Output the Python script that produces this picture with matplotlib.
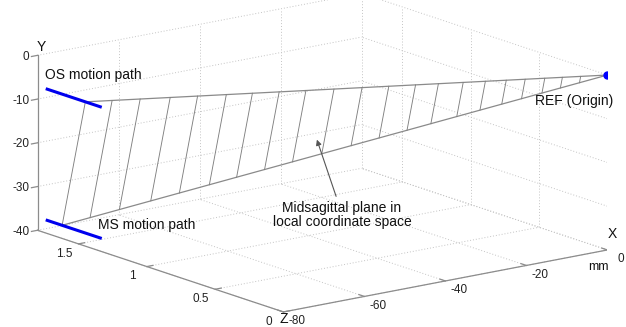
import numpy as np
import matplotlib
matplotlib.use("Agg")
import matplotlib.pyplot as plt
from mpl_toolkits.mplot3d import proj3d

plt.rcParams['font.family'] = ['Liberation Sans', 'DejaVu Sans']

# axis ranges (mm) -- X horizontal, Y vertical, Z depth
x_lim = [-80, 0]
y_lim = [-40, 0]
z_lim = [0, 1.8]
x_ticks = [-80, -60, -40, -20, 0]
y_ticks = [-40, -30, -20, -10, 0]
z_ticks = [0, 0.5, 1, 1.5]
z_ticklabels = ['0', '0.5', '1', '1.5']

# reference point (origin)
ref = [0, 0, 0]

# motion paths: X, Y fixed, Z range
os_x, os_y, os_z = -80, -7, [1.33, 1.74]
ms_x, ms_y, ms_z = -80, -37, [1.33, 1.74]

# far corners of the midsagittal plane (X, Y, Z)
plane_top = [-80, -7, 1.45]
plane_bot = [-80, -37, 1.62]

# X positions of the hatch lines along the plane
hatch_x = [-80, -75.9, -71.6, -67, -62.8, -58.4, -54.4, -50.3, -46.2, -41.9,
           -37.6, -33.5, -29.4, -25.9, -22.1, -18.7, -15.5, -12.6, -9.6, -6.9, -4.1]

fig = plt.figure(figsize=(6.26, 3.27), dpi=100)
ax = fig.add_axes([0.035, -0.386, 0.935, 1.79], projection='3d')
ax.set_proj_type('ortho')
ax.set_box_aspect((2.25, 2.25, 1))
ax.view_init(elev=14.6, azim=-127.2)
ax.set_xlim(x_lim)
ax.set_ylim(z_lim)
ax.set_zlim(y_lim)
ax.set_xticks([])
ax.set_yticks([])
ax.set_zticks([])
ax.set_axis_off()


def line3(X, Y, Z, **kw):
    # data order (X, Y, Z) -> mpl axes (x, z, y)
    return ax.plot(X, Z, Y, **kw)


# dotted grid on floor and the two back walls
grid_kw = dict(color='#c4c4c4', lw=0.7, linestyle=(0, (1, 2)))
for xt in x_ticks:
    line3([xt, xt], [y_lim[0]] * 2, z_lim, **grid_kw)
    line3([xt, xt], y_lim, [z_lim[1]] * 2, **grid_kw)
for zt in z_ticks:
    line3(x_lim, [y_lim[0]] * 2, [zt, zt], **grid_kw)
    line3([x_lim[1]] * 2, y_lim, [zt, zt], **grid_kw)
for yt in y_ticks:
    line3(x_lim, [yt, yt], [z_lim[1]] * 2, **grid_kw)
    line3([x_lim[1]] * 2, [yt, yt], z_lim, **grid_kw)

# axis lines and ticks
ax_kw = dict(color='#8c8c8c', lw=0.9)
line3(x_lim, [y_lim[0]] * 2, [z_lim[0]] * 2, **ax_kw)
line3([x_lim[0]] * 2, [y_lim[0]] * 2, z_lim, **ax_kw)
line3([x_lim[0]] * 2, y_lim, [z_lim[1]] * 2, **ax_kw)
for xt in x_ticks:
    line3([xt, xt], [y_lim[0]] * 2, [0, 0.04], **ax_kw)
for zt in z_ticks:
    line3([x_lim[0], x_lim[0] + 1.5], [y_lim[0]] * 2, [zt, zt], **ax_kw)
for yt in y_ticks:
    line3([x_lim[0] - 1.5, x_lim[0]], [yt, yt], [z_lim[1]] * 2, **ax_kw)

# plane edges
for corner in (plane_top, plane_bot):
    line3([ref[0], corner[0]], [ref[1], corner[1]], [ref[2], corner[2]],
          color='#8a8a8a', lw=0.9)

# hatch lines
for hx in hatch_x:
    t = hx / plane_top[0]
    top = [ref[i] + t * (plane_top[i] - ref[i]) for i in range(3)]
    bot = [ref[i] + t * (plane_bot[i] - ref[i]) for i in range(3)]
    line3([top[0], bot[0]], [top[1], bot[1]], [top[2], bot[2]],
          color='#808080', lw=0.65)

# motion paths and reference point
line3([os_x, os_x], [os_y, os_y], os_z, color='#0000ee', lw=2.2, solid_capstyle='butt')
line3([ms_x, ms_x], [ms_y, ms_y], ms_z, color='#0000ee', lw=2.2, solid_capstyle='butt')
line3([ref[0]], [ref[1]], [ref[2]], marker='o', color='#0000ff', ms=5)

# labels placed at projected 3D anchor points
fig.canvas.draw()
M = ax.get_proj()


def text3(X, Y, Z, s, **kw):
    x2, y2, _ = proj3d.proj_transform(X, Z, Y, M)
    return ax.text2D(x2, y2, s, transform=ax.transData, **kw)


lab_kw = dict(fontsize=8.5, color='#222222')
for xt in x_ticks:
    text3(xt, y_lim[0] - 1.1, -0.1, '%d' % xt, ha='center', va='center', **lab_kw)
for zt, zl in zip(z_ticks, z_ticklabels):
    text3(x_lim[0] - 3.5, y_lim[0] - 1.6, zt, zl, ha='center', va='center', **lab_kw)
for yt in y_ticks:
    text3(x_lim[0] - 2.0, yt, z_lim[1], '%d' % yt, ha='right', va='center', **lab_kw)

let_kw = dict(fontsize=10, color='#111111', ha='center', va='center')
text3(x_lim[0] + 1, y_lim[1] + 1.8, z_lim[1], 'Y', **let_kw)
text3(x_lim[1] + 1.2, y_lim[0] + 3.4, z_lim[0], 'X', **let_kw)
text3(x_lim[0], y_lim[0] - 1.6, z_lim[0], 'Z', **let_kw)
text3(x_lim[1] - 1.5, y_lim[0] - 3.8, z_lim[0] + 0.02, 'mm', fontsize=9,
      color='#111111', ha='center', va='center')

W, H = 626, 327


def px(x, y):
    return x / W, 1 - y / H


note_kw = dict(fontsize=10, color='#111111', va='center')
fig.text(*px(45, 75), 'OS motion path', **note_kw)
fig.text(*px(98, 225), 'MS motion path', **note_kw)
fig.text(*px(535, 101), 'REF (Origin)', **note_kw)
fig.text(*px(342, 215), 'Midsagittal plane in\nlocal coordinate space',
         ha='center', linespacing=1.05, **note_kw)
fig.add_artist(matplotlib.patches.FancyArrowPatch(
    px(337, 199), px(316, 137), transform=fig.transFigure,
    arrowstyle='-|>', color='#555555', lw=0.8, mutation_scale=8))

fig.savefig('out.png', dpi=100)
